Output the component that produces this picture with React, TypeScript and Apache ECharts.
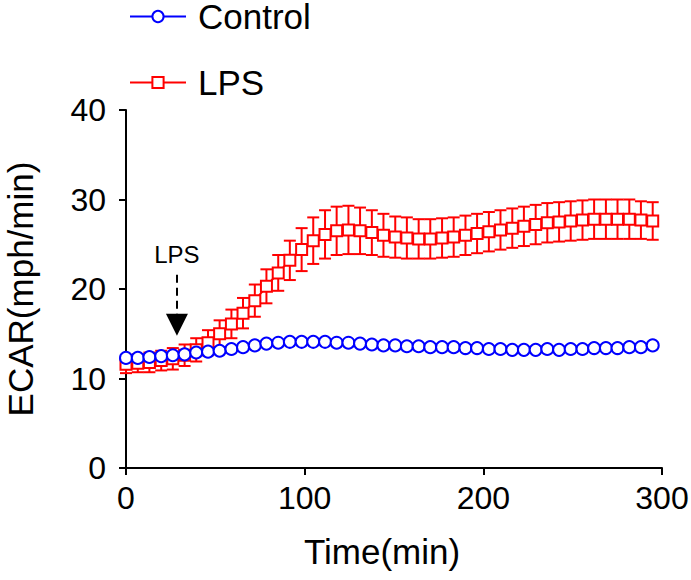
import React, { useEffect, useRef } from "react";
import * as echarts from "echarts";

const times = [0, 6.6, 13.1, 19.7, 26.2, 32.8, 39.3, 45.9, 52.4, 59.0, 65.5, 72.1, 78.6, 85.2, 91.7, 98.3, 104.8, 111.4, 117.9, 124.5, 131.0, 137.6, 144.1, 150.7, 157.2, 163.8, 170.3, 176.9, 183.4, 190.0, 196.5, 203.1, 209.6, 216.2, 222.7, 229.3, 235.8, 242.4, 248.9, 255.5, 262.0, 268.6, 275.1, 281.7, 288.2, 294.8];

const controlMean = [12.3, 12.3, 12.4, 12.5, 12.6, 12.7, 12.9, 13.0, 13.1, 13.3, 13.5, 13.7, 13.9, 14.0, 14.1, 14.1, 14.1, 14.1, 14.0, 14.0, 13.9, 13.8, 13.7, 13.7, 13.6, 13.6, 13.5, 13.5, 13.5, 13.4, 13.4, 13.3, 13.3, 13.2, 13.2, 13.2, 13.3, 13.2, 13.3, 13.3, 13.4, 13.4, 13.4, 13.5, 13.5, 13.7];

const lpsMean = [11.6, 11.7, 11.8, 12.0, 12.2, 12.6, 13.2, 14.0, 15.0, 16.1, 17.3, 18.7, 20.3, 21.8, 23.2, 24.4, 25.4, 26.1, 26.5, 26.6, 26.5, 26.3, 26.0, 25.8, 25.7, 25.6, 25.6, 25.7, 25.8, 26.0, 26.2, 26.4, 26.6, 26.8, 27.0, 27.2, 27.4, 27.5, 27.6, 27.7, 27.8, 27.8, 27.8, 27.8, 27.7, 27.6];

const lpsErr = [1.0, 1.0, 1.1, 1.1, 1.2, 1.2, 1.3, 1.4, 1.5, 1.6, 1.7, 1.8, 1.9, 2.0, 2.2, 2.4, 2.6, 2.7, 2.7, 2.7, 2.6, 2.5, 2.4, 2.3, 2.3, 2.2, 2.2, 2.2, 2.2, 2.2, 2.2, 2.2, 2.2, 2.2, 2.2, 2.2, 2.2, 2.2, 2.2, 2.2, 2.2, 2.2, 2.2, 2.2, 2.1, 2.1];

const seriesNames = ["Control", "LPS"];
const xTicks = { min: 0, max: 300, interval: 100 };
const yTicks = { min: 0, max: 40, interval: 10 };
const lpsAddTime = 28.5;

const FONT = "Liberation Sans, Arial, sans-serif";

export default function App() {
  const ref = useRef<HTMLDivElement>(null);
  useEffect(() => {
    if (!ref.current) return;
    const chart = echarts.init(ref.current, undefined, { renderer: "svg" });
    const controlData = times.map((t, i) => [t, controlMean[i]]);
    const lpsData = times.map((t, i) => [t, lpsMean[i]]);
    const lpsErrData = times.map((t, i) => [t, lpsMean[i] - lpsErr[i], lpsMean[i] + lpsErr[i]]);

    chart.setOption({
      animation: false,
      backgroundColor: "#ffffff",
      textStyle: { fontFamily: FONT, color: "#000" },
      grid: {
        left: 126,
        right: 29,
        top: 110,
        bottom: 112,
        containLabel: false,
        outerBoundsMode: "none",
      },
      legend: {
        data: seriesNames,
        orient: "vertical",
        left: 124,
        top: -6,
        itemWidth: 56,
        itemHeight: 14,
        itemGap: 31,
        textStyle: {
          fontSize: 35,
          lineHeight: 28,
          color: "#000",
          fontFamily: FONT,
          padding: [0, 0, 0, 7],
        },
        selectedMode: false,
      },
      xAxis: {
        type: "value",
        min: xTicks.min,
        max: xTicks.max,
        interval: xTicks.interval,
        name: "Time(min)",
        nameLocation: "middle",
        nameGap: 66,
        nameTextStyle: { fontSize: 35, color: "#000", fontFamily: FONT, padding: [0, 24, 0, 0] },
        axisLine: { show: true, onZero: false, lineStyle: { color: "#000", width: 2 } },
        axisTick: { show: true, length: 7, lineStyle: { color: "#000", width: 2 } },
        axisLabel: { fontSize: 32, color: "#000", margin: 14, fontFamily: FONT },
        splitLine: { show: false },
      },
      yAxis: {
        type: "value",
        min: yTicks.min,
        max: yTicks.max,
        interval: yTicks.interval,
        name: "ECAR(mph/min)",
        nameLocation: "middle",
        nameGap: 88,
        nameRotate: 90,
        nameTextStyle: { fontSize: 35, color: "#000", fontFamily: FONT },
        axisLine: { show: true, onZero: false, lineStyle: { color: "#000", width: 2 } },
        axisTick: { show: true, length: 7, lineStyle: { color: "#000", width: 2 } },
        axisLabel: { fontSize: 32, color: "#000", margin: 20, fontFamily: FONT },
        splitLine: { show: false },
      },
      series: [
        {
          name: "LPS err",
          type: "custom",
          data: lpsErrData,
          encode: { x: 0, y: [1, 2] },
          z: 2,
          silent: true,
          renderItem: (params: any, api: any) => {
            const x = api.value(0);
            const lo = api.coord([x, api.value(1)]);
            const hi = api.coord([x, api.value(2)]);
            const w = 6;
            const st = { stroke: "#ff0000", lineWidth: 2 };
            return {
              type: "group",
              children: [
                { type: "line", shape: { x1: hi[0], y1: hi[1], x2: lo[0], y2: lo[1] }, style: st },
                { type: "line", shape: { x1: hi[0] - w, y1: hi[1], x2: hi[0] + w, y2: hi[1] }, style: st },
                { type: "line", shape: { x1: lo[0] - w, y1: lo[1], x2: lo[0] + w, y2: lo[1] }, style: st },
              ],
            };
          },
        },
        {
          name: "LPS",
          type: "line",
          data: lpsData,
          smooth: true,
          symbol: "emptyRect",
          symbolSize: 11,
          z: 3,
          itemStyle: { color: "#ff0000", borderColor: "#ff0000", borderWidth: 2 },
          lineStyle: { color: "#ff0000", width: 2 },
          markLine: {
            silent: true,
            symbol: ["none", "triangle"],
            symbolSize: [22, 22],
            lineStyle: { color: "#000", width: 2, type: [8, 5] },
            label: {
              show: true,
              position: "start",
              formatter: "LPS",
              fontSize: 24,
              color: "#000",
              fontFamily: FONT,
              distance: 8,
            },
            data: [[{ coord: [lpsAddTime, 21.6] }, { coord: [lpsAddTime, 16.0] }]],
          },
        },
        {
          name: "Control",
          type: "line",
          data: controlData,
          smooth: true,
          symbol: "emptyCircle",
          symbolSize: 12,
          z: 4,
          itemStyle: { color: "#0000ff", borderColor: "#0000ff", borderWidth: 2 },
          lineStyle: { color: "#0000ff", width: 2 },
        },
      ],
    });
    return () => chart.dispose();
  }, []);
  return (
    <div
      ref={ref}
      style={{ position: "fixed", left: 0, top: 0, width: 691, height: 580 }}
    />
  );
}
